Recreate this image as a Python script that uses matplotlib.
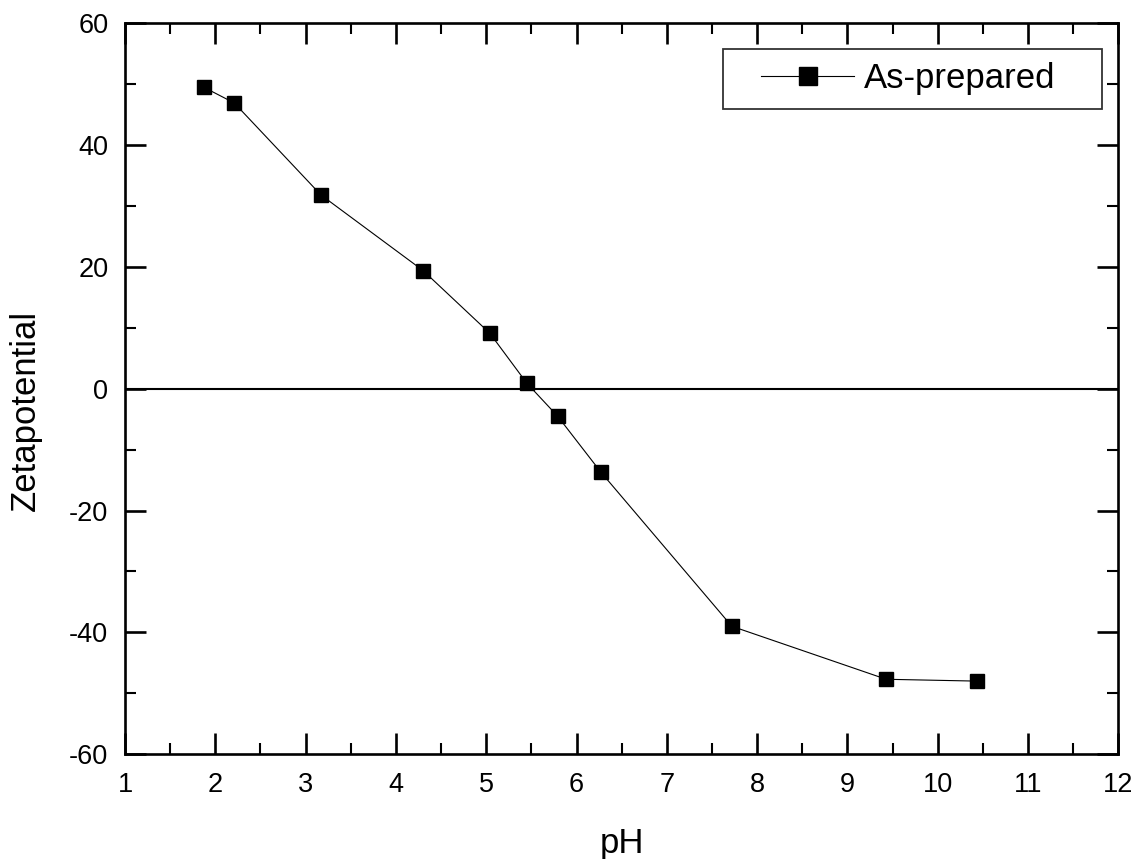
import matplotlib
matplotlib.use("Agg")
import matplotlib.pyplot as plt
from matplotlib.ticker import MultipleLocator
from matplotlib.legend_handler import HandlerLine2D

plt.rcParams['font.family'] = ['Liberation Sans', 'DejaVu Sans']
plt.rcParams['axes.unicode_minus'] = False

# Zeta potential versus pH for the as-prepared sample
ph = [1.87, 2.21, 3.17, 4.30, 5.04, 5.45, 5.79, 6.27, 7.72, 9.43, 10.43]
zeta = [49.5, 46.9, 31.8, 19.4, 9.1, 0.9, -4.5, -13.7, -39.0, -47.7, -48.0]
series_label = "As-prepared"
x_ticks = list(range(1, 13))
y_ticks = [-60, -40, -20, 0, 20, 40, 60]

fig = plt.figure(figsize=(11.47, 8.59), dpi=100)
ax = fig.add_axes([0.109, 0.122, 0.866, 0.851])

ax.axhline(0, color='black', lw=1.5, zorder=1)
line, = ax.plot(ph, zeta, color='black', lw=0.8, marker='s', markersize=10.3,
                markerfacecolor='black', markeredgecolor='black',
                label=series_label, zorder=3)

ax.set_xlim(1, 12)
ax.set_ylim(-60, 60)
ax.set_xticks(x_ticks)
ax.set_yticks(y_ticks)
ax.xaxis.set_minor_locator(MultipleLocator(0.5))
ax.yaxis.set_minor_locator(MultipleLocator(10))

for s in ax.spines.values():
    s.set_linewidth(1.9)

ax.tick_params(which='major', direction='in', length=15, width=1.9,
               top=True, right=True, labelsize=19.5)
ax.tick_params(which='minor', direction='in', length=8, width=1.5,
               top=True, right=True)
ax.tick_params(axis='x', which='major', pad=13)
ax.tick_params(axis='y', which='major', pad=12)

ax.set_xlabel("pH", fontsize=25)
ax.set_ylabel("Zetapotential", fontsize=25)
ax.xaxis.set_label_coords(0.5, -0.099)
ax.yaxis.set_label_coords(-0.084, 0.47)

leg = ax.legend(loc='upper left', bbox_to_anchor=(0.602, 0.882, 0.382, 0.0825),
                mode='expand', borderaxespad=0, fontsize=25, frameon=True,
                fancybox=False, edgecolor='black', handlelength=3.4,
                handletextpad=0.29, borderpad=0.38, markerscale=1.3,
                handler_map={line: HandlerLine2D(xpad=0.72)})
leg.get_frame().set_linewidth(1.3)

fig.savefig("out.png", dpi=100)
